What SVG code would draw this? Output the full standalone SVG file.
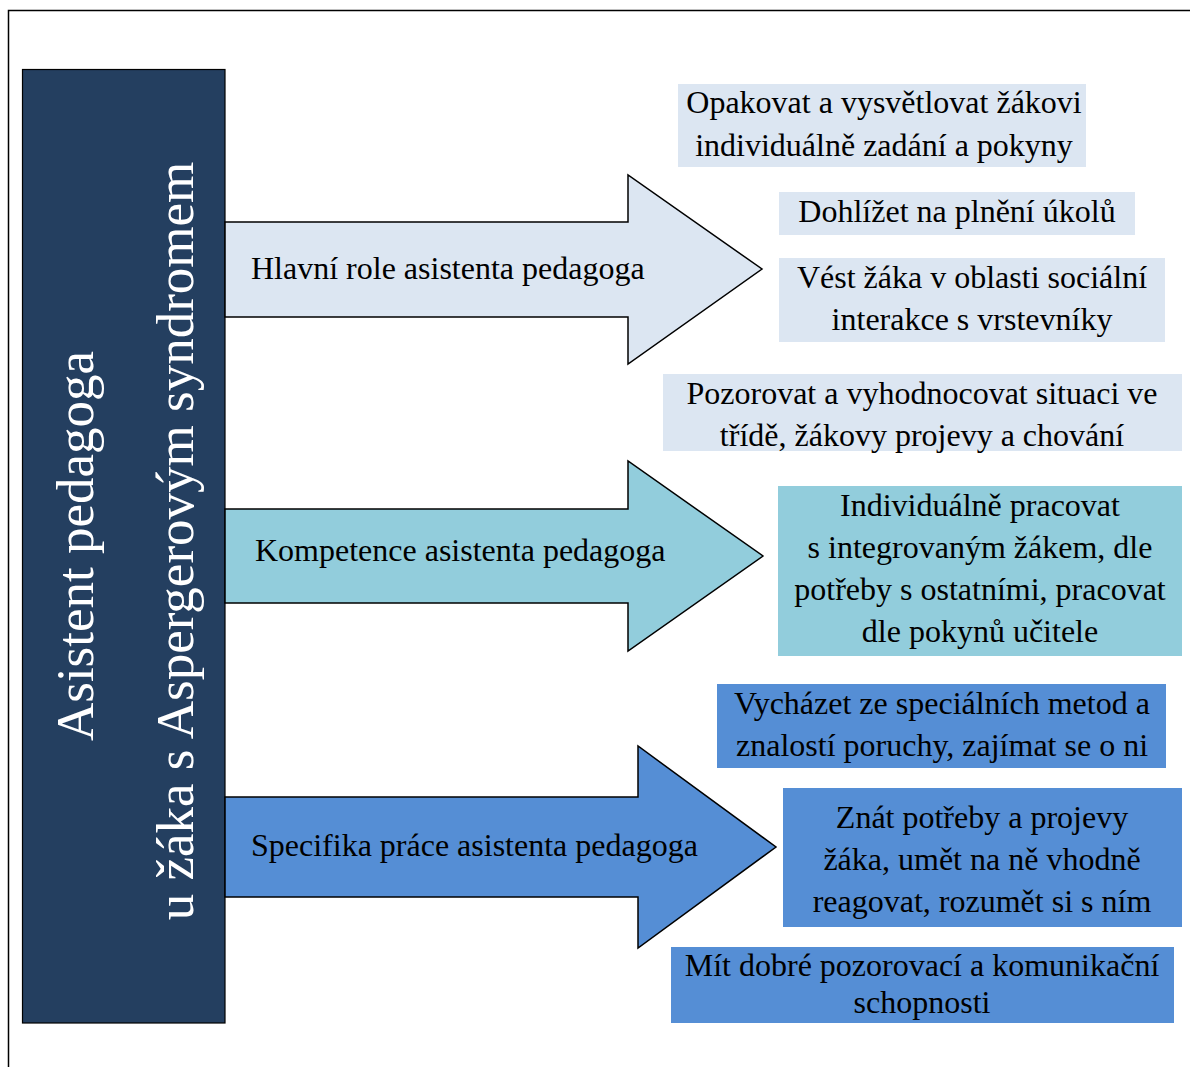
<svg xmlns="http://www.w3.org/2000/svg" width="1190" height="1067" viewBox="0 0 1190 1067">
<style>
.t{font-family:"Liberation Serif","Times New Roman",serif;font-size:32px;fill:#000;}
.c{text-anchor:middle;}
.title{font-family:"Liberation Serif","Times New Roman",serif;font-size:53px;fill:#fff;text-anchor:middle;}
.arrow{stroke:#000;stroke-width:1.5;stroke-linejoin:miter;}
.light{fill:#DCE6F2;}
.teal{fill:#92CDDC;}
.blue{fill:#558ED5;}
</style>
<rect x="8.5" y="10.5" width="1200" height="1100" fill="#fff" stroke="#000" stroke-width="1.5"/>
<g id="main">
<rect x="22.5" y="69.5" width="202.5" height="953.5" fill="#243F60" stroke="#000" stroke-width="1.2"/>
<text class="title" transform="translate(93,546) rotate(-90)">Asistent pedagoga</text>
<text class="title" transform="translate(193,541) rotate(-90)">u žáka s Aspergerovým syndromem</text>
</g>
<g id="connectors">
<g id="arrow1">
<polygon class="arrow light" points="225,222 628,222 628,175 762,269 628,364 628,317 225,317"/>
<text class="t" x="251" y="279">Hlavní role asistenta pedagoga</text>
</g>
<g id="arrow2">
<polygon class="arrow teal" points="225,509 628,509 628,461 763,556 628,651 628,603 225,603"/>
<text class="t" x="255" y="561">Kompetence asistenta pedagoga</text>
</g>
<g id="arrow3">
<polygon class="arrow blue" points="225,797 638,797 638,746 776,847 638,948 638,897 225,897"/>
<text class="t" x="251" y="856">Specifika práce asistenta pedagoga</text>
</g>
</g>
<g id="box1">
<rect class="light" x="678" y="84" width="408" height="83"/>
<text class="t c" x="884" y="113">Opakovat a vysvětlovat žákovi</text>
<text class="t c" x="884" y="156">individuálně zadání a pokyny</text>
</g>
<g id="box2">
<rect class="light" x="779" y="192" width="356" height="43"/>
<text class="t c" x="957" y="222">Dohlížet na plnění úkolů</text>
</g>
<g id="box3">
<rect class="light" x="779" y="258" width="386" height="84"/>
<text class="t c" x="972" y="288">Vést žáka v oblasti sociální</text>
<text class="t c" x="972" y="330">interakce s vrstevníky</text>
</g>
<g id="box4">
<rect class="light" x="663" y="374" width="519" height="77"/>
<text class="t c" x="922" y="404">Pozorovat a vyhodnocovat situaci ve</text>
<text class="t c" x="922" y="446">třídě, žákovy projevy a chování</text>
</g>
<g id="box5">
<rect class="teal" x="778" y="486" width="404" height="170"/>
<text class="t c" x="980" y="516">Individuálně pracovat</text>
<text class="t c" x="980" y="558">s integrovaným žákem, dle</text>
<text class="t c" x="980" y="600">potřeby s ostatními, pracovat</text>
<text class="t c" x="980" y="642">dle pokynů učitele</text>
</g>
<g id="box6">
<rect class="blue" x="717" y="684" width="449" height="84"/>
<text class="t c" x="942" y="714">Vycházet ze speciálních metod a</text>
<text class="t c" x="942" y="756">znalostí poruchy, zajímat se o ni</text>
</g>
<g id="box7">
<rect class="blue" x="783" y="788" width="399" height="139"/>
<text class="t c" x="982" y="828">Znát potřeby a projevy</text>
<text class="t c" x="982" y="870">žáka, umět na ně vhodně</text>
<text class="t c" x="982" y="912">reagovat, rozumět si s ním</text>
</g>
<g id="box8">
<rect class="blue" x="671" y="947" width="503" height="76"/>
<text class="t c" x="922" y="976">Mít dobré pozorovací a komunikační</text>
<text class="t c" x="922" y="1013">schopnosti</text>
</g>
</svg>
